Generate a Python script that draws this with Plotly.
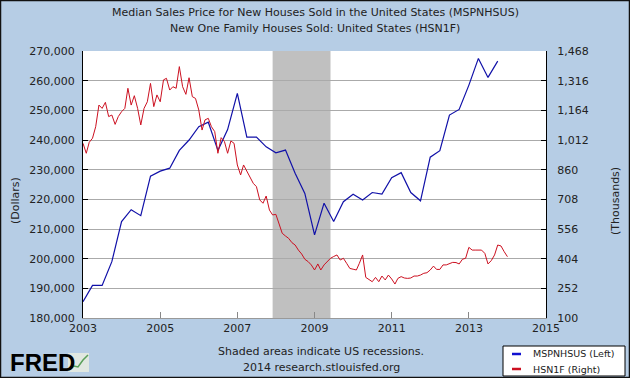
import pandas as pd
import plotly.graph_objects as go

# ---- data ----
price_start = "2003-01-01"
price_values = [185500, 191000, 191000, 199000, 212500, 216500, 214500, 227800,
                229500, 230500, 236500, 240000, 244500, 246000, 236500, 243500,
                255700, 241000, 241000, 237700, 235700, 236600, 228800, 222000,
                208000, 218700, 212500, 219200, 221700, 219800, 222300, 221800,
                227300, 229000, 222300, 219500, 234200, 236400, 248400, 250300,
                258500, 267500, 261100, 266600]

sales_start = "2003-01-01"
sales_values = [995, 944, 1000, 1021, 1080, 1191, 1174, 1205, 1132, 1140, 1092, 1132,
                1157, 1174, 1277, 1191, 1239, 1174, 1089, 1174, 1208, 1302, 1183, 1243,
                1208, 1320, 1328, 1268, 1285, 1277, 1388, 1285, 1246, 1331, 1234, 1225,
                1166, 1063, 1115, 1123, 1080, 1055, 944, 1024, 1004, 944, 1007, 995,
                884, 833, 884, 850, 824, 790, 773, 705, 688, 725, 653, 628,
                631, 585, 534, 520, 508, 486, 474, 448, 428, 401, 389, 372,
                346, 377, 346, 372, 390, 406, 415, 423, 397, 406, 380, 354,
                350, 346, 380, 423, 308, 298, 286, 308, 286, 315, 295, 320,
                300, 274, 303, 312, 305, 303, 305, 315, 315, 320, 329, 332,
                346, 366, 349, 349, 372, 372, 377, 385, 384, 377, 401, 406,
                462, 448, 448, 448, 448, 431, 377, 394, 423, 474, 469, 440,
                414]

recession_start = "2007-12-01"
recession_end = "2009-06-01"

left_ticks = [180000, 190000, 200000, 210000, 220000, 230000, 240000, 250000, 260000, 270000]
right_ticks = [100, 252, 404, 556, 708, 860, 1012, 1164, 1316, 1468]
x_ticks = ["2003", "2005", "2007", "2009", "2011", "2013", "2015"]

price_dates = pd.date_range(price_start, periods=len(price_values), freq="QS")
sales_dates = pd.date_range(sales_start, periods=len(sales_values), freq="MS")

# ---- geometry (pixels) ----
W, H = 630, 378
L, R, T, B = 83, 546, 51, 318
PW, PH = R - L, B - T


def px(x):
    return (x - L) / PW


def py(y):
    return (B - y) / PH


BG = "rgb(182,205,229)"
FONT = "DejaVu Sans"
TXT = "#222222"

fig = go.Figure()
fig.add_trace(go.Scatter(x=sales_dates, y=sales_values, mode="lines", yaxis="y2",
                         line=dict(color="#CC1020", width=1), name="HSN1F (Right)",
                         showlegend=False))
fig.add_trace(go.Scatter(x=price_dates, y=price_values, mode="lines", yaxis="y",
                         line=dict(color="#1010A8", width=1.2), name="MSPNHSUS (Left)",
                         showlegend=False))

shapes = [
    dict(type="rect", xref="x", yref="paper", x0=recession_start, x1=recession_end,
         y0=0, y1=1, fillcolor="rgb(192,192,192)", line=dict(width=0), layer="below"),
    # legend box
    dict(type="rect", xref="paper", yref="paper", x0=px(503), x1=px(625), y0=py(376), y1=py(346),
         fillcolor="white", line=dict(color="black", width=1)),
    dict(type="line", xref="paper", yref="paper", x0=px(512), x1=px(521), y0=py(354), y1=py(354),
         line=dict(color="#1010D0", width=2.5)),
    dict(type="line", xref="paper", yref="paper", x0=px(512), x1=px(521), y0=py(369), y1=py(369),
         line=dict(color="#CC1020", width=2.5)),
    # FRED icon
    dict(type="rect", xref="paper", yref="paper", x0=px(68), x1=px(89), y0=py(372), y1=py(353),
         fillcolor="rgb(225,232,225)", line=dict(width=0)),
    dict(type="path", xref="paper", yref="paper",
         path="M %f %f L %f %f L %f %f L %f %f L %f %f" % (px(69), py(370), px(74), py(366), px(78), py(367),
                                                         px(83), py(360), px(88), py(355)),
         line=dict(color="rgb(90,160,90)", width=1.5)),
    # outer border
    dict(type="rect", xref="paper", yref="paper", x0=px(0.5), x1=px(629.5), y0=py(377.5), y1=py(0.5),
         line=dict(color="#111111", width=1.5)),
]

annotations = [
    dict(text="Median Sales Price for New Houses Sold in the United States (MSPNHSUS)",
         x=px(315), y=py(12), font=dict(size=11)),
    dict(text="New One Family Houses Sold: United States (HSN1F)",
         x=px(315), y=py(28), font=dict(size=11)),
    dict(text="(Dollars)", x=px(15), y=py(201), textangle=-90, font=dict(size=11)),
    dict(text="(Thousands)", x=px(615), y=py(201), textangle=-90, font=dict(size=11)),
    dict(text="Shaded areas indicate US recessions.", x=px(321), y=py(351), font=dict(size=11)),
    dict(text="2014 research.stlouisfed.org", x=px(321), y=py(367), font=dict(size=11)),
    dict(text="MSPNHSUS (Left)", x=px(531), y=py(354), xanchor="left", font=dict(size=9.5)),
    dict(text="HSN1F (Right)", x=px(531), y=py(369), xanchor="left", font=dict(size=9.5)),
    dict(text="<b>FRED</b>", x=px(8), y=py(362), xanchor="left",
         font=dict(size=24, family="Liberation Sans", color="black")),
]
for a in annotations:
    a.setdefault("xref", "paper")
    a.setdefault("yref", "paper")
    a.setdefault("xanchor", "center")
    a.setdefault("yanchor", "middle")
    a.setdefault("showarrow", False)
    a["font"].setdefault("family", FONT)
    a["font"].setdefault("color", TXT)

fig.update_layout(
    width=W, height=H,
    margin=dict(l=L, r=W - R, t=T, b=H - B, pad=0),
    paper_bgcolor=BG, plot_bgcolor="white",
    font=dict(family=FONT, size=11, color=TXT),
    showlegend=False,
    hovermode=False,
    shapes=shapes, annotations=annotations,
    xaxis=dict(type="date", range=["2003-01-01", "2015-01-01"],
               tickvals=[pd.Timestamp(t + "-01-01") for t in x_ticks], ticktext=x_ticks,
               ticks="inside", ticklen=6, tickcolor="#888888", showgrid=False,
               showline=True, linecolor="#999999", linewidth=1, zeroline=False,
               tickfont=dict(size=11)),
    yaxis=dict(range=[180000, 270000], tickvals=left_ticks, tickformat=",d",
               ticks="inside", ticklen=5, tickcolor="black",
               showline=True, linecolor="black", linewidth=1,
               showgrid=True, gridcolor="#AAAAAA", gridwidth=1, zeroline=False,
               ticklabelstandoff=5),
    yaxis2=dict(range=[100, 1468], tickvals=right_ticks, tickformat=",d",
                overlaying="y", side="right",
                ticks="inside", ticklen=5, tickcolor="black",
                showline=True, linecolor="black", linewidth=1,
                showgrid=False, zeroline=False, ticklabelstandoff=8),
)

fig.write_html("out.html", config={"displayModeBar": False},
               post_script="document.body.style.margin='0';document.body.style.overflow='hidden';")
